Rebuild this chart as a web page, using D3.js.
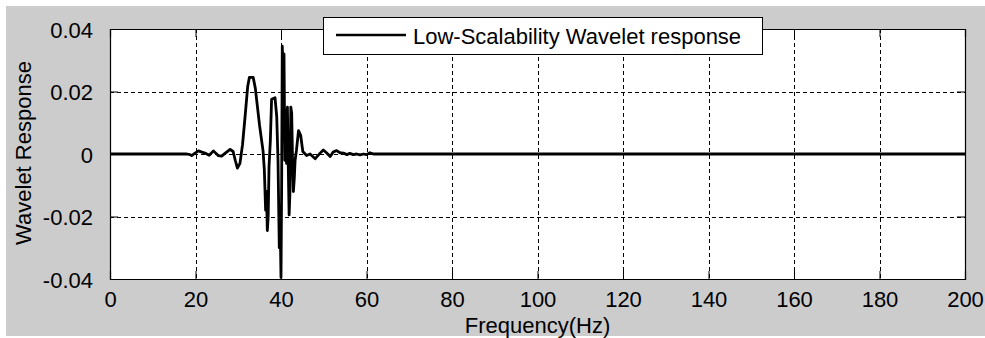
<!DOCTYPE html>
<html>
<head>
<meta charset="utf-8">
<script src="https://cdn.jsdelivr.net/npm/d3@7"></script>
<style>
  body { margin: 0; background: #fff; }
  svg { display: block; }
  text { font-family: Arial, 'Liberation Sans', sans-serif; fill: #000; }
</style>
</head>
<body>
<div class="wavelet-chart"></div>
<script>
const width = 985
const height = 338

// values
const freq = [
  0, 18, 18.7, 19.1, 19.8, 20.7, 21.5, 22.2, 23.2, 24.2, 25.3, 26.1, 26.9,
  28.1, 28.8, 29.3, 29.8, 30.4, 31.0, 31.6, 32.2, 32.6, 33.5, 34.0, 35.0,
  35.8, 36.1, 36.4, 36.6, 36.8, 37.0, 37.2, 37.5, 37.8, 38.6, 39.0, 39.3,
  39.6, 39.8, 40.0, 40.15, 40.3, 40.5, 40.7, 40.9, 41.1, 41.3, 41.5, 41.7,
  41.9, 42.1, 42.3, 42.5, 42.7, 42.9, 43.1, 43.3, 43.6, 44.1, 44.6, 45.1,
  46.0, 46.8, 48.0, 49.1, 49.9, 50.7, 51.5, 52.2, 53.0, 53.8, 54.6, 55.4,
  56.1, 56.9, 57.7, 58.5, 59.3, 60.0, 60.8, 61.6, 200
]
const response = [
  0, 0, -0.0002, -0.0005, 0.0002, 0.001, 0.0006, 0.0003, -0.0004, 0.001,
  -0.0005, -0.0007, 0.0002, 0.0015, 0.0008, -0.002, -0.0045, -0.003, 0.003,
  0.012, 0.0215, 0.0245, 0.0245, 0.021, 0.009,
  0.001, -0.005, -0.018, -0.012, -0.0245, -0.02, -0.004, 0.004, 0.0175,
  0.018, 0.012, -0.002,
  -0.03, -0.022, -0.0395, -0.01, 0.0345, 0.025, 0.032, -0.002, 0.014,
  -0.003, 0.015, -0.004,
  -0.0195, -0.012, 0.015, 0.013, -0.002, -0.012, -0.008, -0.002, 0.001,
  0.0075, 0.006, 0.0008,
  -0.0005, 0, -0.0015, 0.0002, 0.0013, 0.0003, -0.0008, 0.0006, 0.0011,
  0.0004, 0.0003, -0.0002, 0.0002, -0.0002, 0, -0.0003, 0, -0.0002, 0.0004,
  0, 0
]
const xTicks = [0, 20, 40, 60, 80, 100, 120, 140, 160, 180, 200]
const yTicks = [-0.04, -0.02, 0, 0.02, 0.04]
const yTickLabels = ['-0.04', '-0.02', '0', '0.02', '0.04']
const legendLabel = 'Low-Scalability Wavelet response'

const plot = { left: 110, right: 965, top: 29, bottom: 279 }

const x = d3.scaleLinear().domain([0, 200]).range([plot.left, plot.right])
const y = d3.scaleLinear().domain([-0.04, 0.04]).range([plot.bottom, plot.top])

const svg = d3
  .select('.wavelet-chart')
  .append('svg')
  .attr('width', width)
  .attr('height', height)

// figure background
svg
  .append('rect')
  .attr('x', 6)
  .attr('y', 6)
  .attr('width', width - 6)
  .attr('height', height - 8)
  .attr('fill', '#cccccc')

svg
  .append('rect')
  .attr('x', plot.left)
  .attr('y', plot.top)
  .attr('width', plot.right - plot.left)
  .attr('height', plot.bottom - plot.top)
  .attr('fill', '#fff')

// grid
const grid = svg.append('g').attr('class', 'grid')
grid
  .selectAll('line.vgrid')
  .data(xTicks.slice(1, -1))
  .enter()
  .append('line')
  .attr('class', 'vgrid')
  .attr('x1', d => Math.round(x(d)) + 0.5)
  .attr('x2', d => Math.round(x(d)) + 0.5)
  .attr('y1', plot.top)
  .attr('y2', plot.bottom)
grid
  .selectAll('line.hgrid')
  .data(yTicks.slice(1, -1))
  .enter()
  .append('line')
  .attr('class', 'hgrid')
  .attr('x1', plot.left)
  .attr('x2', plot.right)
  .attr('y1', d => Math.round(y(d)) + 0.5)
  .attr('y2', d => Math.round(y(d)) + 0.5)
grid
  .selectAll('line')
  .attr('stroke', '#000')
  .attr('stroke-width', 1)
  .attr('stroke-dasharray', '4,3')

// data line
const points = freq.map((f, i) => [f, response[i]])
svg
  .append('path')
  .datum(points)
  .attr('fill', 'none')
  .attr('stroke', '#000')
  .attr('stroke-width', 2.8)
  .attr('stroke-linejoin', 'round')
  .attr('d', d3.line().x(d => x(d[0])).y(d => y(d[1])))

// axes, ticks pointing inward like matlab
const tickLen = 8
const axisBottom = d3.axisBottom(x).tickValues(xTicks).tickSize(-tickLen).tickPadding(tickLen + 11)
const axisTop = d3.axisTop(x).tickValues(xTicks).tickSize(-tickLen).tickFormat('')
const axisLeft = d3
  .axisLeft(y)
  .tickValues(yTicks)
  .tickSize(-tickLen)
  .tickPadding(tickLen + 9)
  .tickFormat((d, i) => yTickLabels[i])
const axisRight = d3.axisRight(y).tickValues(yTicks).tickSize(-tickLen).tickFormat('')

const gx = svg.append('g').attr('transform', `translate(0,${plot.bottom})`).call(axisBottom)
svg.append('g').attr('transform', `translate(0,${plot.top})`).call(axisTop)
const gy = svg.append('g').attr('transform', `translate(${plot.left},0)`).call(axisLeft)
svg.append('g').attr('transform', `translate(${plot.right},0)`).call(axisRight)

svg.selectAll('.domain').attr('stroke', '#000').attr('stroke-width', 1.2)
svg.selectAll('.tick line').attr('stroke', '#000')
svg.selectAll('.tick text').attr('font-size', 22).attr('fill', '#000')
gx.selectAll('.tick text').attr('dy', null).attr('y', 28)
gy.selectAll('.tick text').attr('dy', null).attr('y', 8)

// axis titles
svg
  .append('text')
  .attr('x', (plot.left + plot.right) / 2)
  .attr('y', 333)
  .attr('text-anchor', 'middle')
  .attr('font-size', 22)
  .text('Frequency(Hz)')

svg
  .append('text')
  .attr('transform', 'translate(31,153) rotate(-90)')
  .attr('text-anchor', 'middle')
  .attr('font-size', 22)
  .text('Wavelet Response')

// legend
const legend = svg.append('g').attr('class', 'legend')
legend
  .append('rect')
  .attr('x', 323.5)
  .attr('y', 17.5)
  .attr('width', 439)
  .attr('height', 37)
  .attr('fill', '#fff')
  .attr('stroke', '#000')
legend
  .append('line')
  .attr('x1', 336)
  .attr('x2', 406)
  .attr('y1', 35)
  .attr('y2', 35)
  .attr('stroke', '#000')
  .attr('stroke-width', 2.6)
legend
  .append('text')
  .attr('x', 413)
  .attr('y', 44)
  .attr('font-size', 22)
  .text(legendLabel)
</script>
</body>
</html>
